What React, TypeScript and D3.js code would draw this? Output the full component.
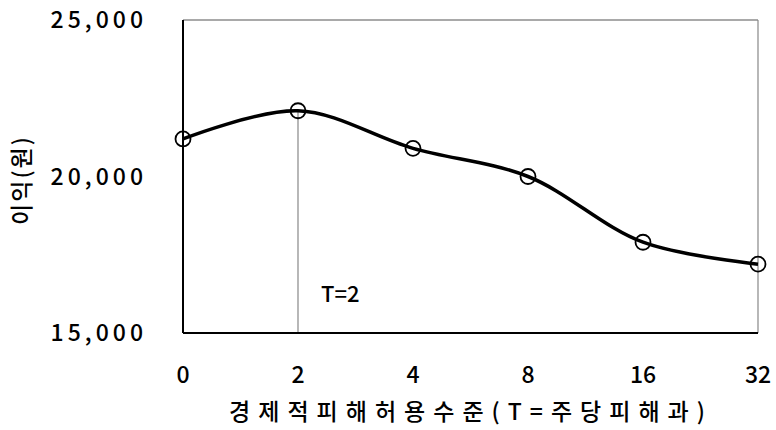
import React, { useRef, useEffect } from 'react';
import * as d3 from 'd3';

const categories: string[] = ['0', '2', '4', '8', '16', '32'];
const profits: number[] = [21200, 22100, 20900, 20000, 17900, 17200];
const yTicks: number[] = [15000, 20000, 25000];
const yTitle = '이익(원)';
const xTitle = '경제적피해허용수준(T=주당피해과)';
const markerLabel = 'T=2';
const markerCategory = '2';

const W = 776;
const H = 430;
const FONT = '"Noto Sans CJK KR", "Noto Sans", sans-serif';

const App: React.FC = () => {
  const ref = useRef<SVGSVGElement>(null);

  useEffect(() => {
    const svg = d3.select(ref.current);
    svg.selectAll('*').remove();

    const left = 183;
    const right = 758;
    const top = 20;
    const bottom = 333;

    const x = d3.scalePoint<string>().domain(categories).range([left, right]);
    const y = d3.scaleLinear().domain([15000, 25000]).range([bottom, top]);

    // frame: gray top/right, black left/bottom
    svg.append('line')
      .attr('x1', left).attr('x2', right).attr('y1', top).attr('y2', top)
      .attr('stroke', '#555').attr('stroke-width', 1.2);
    svg.append('line')
      .attr('x1', right).attr('x2', right).attr('y1', top).attr('y2', bottom)
      .attr('stroke', '#888').attr('stroke-width', 1.2);

    // marker line at T=2
    const mi = categories.indexOf(markerCategory);
    svg.append('line')
      .attr('x1', x(markerCategory)!).attr('x2', x(markerCategory)!)
      .attr('y1', y(profits[mi])).attr('y2', bottom)
      .attr('stroke', '#888').attr('stroke-width', 1.2);
    svg.append('text')
      .attr('x', x(markerCategory)! + 23).attr('y', 302)
      .attr('font-family', FONT).attr('font-size', 22).attr('font-weight', 500)
      .text(markerLabel);

    svg.append('line')
      .attr('x1', left).attr('x2', left).attr('y1', top).attr('y2', bottom)
      .attr('stroke', '#000').attr('stroke-width', 2);
    svg.append('line')
      .attr('x1', left).attr('x2', right).attr('y1', bottom).attr('y2', bottom)
      .attr('stroke', '#000').attr('stroke-width', 2);

    // y tick labels
    svg.append('g')
      .selectAll('text')
      .data(yTicks)
      .enter()
      .append('text')
      .attr('x', 147)
      .attr('y', (d) => y(d) + 8)
      .attr('text-anchor', 'end')
      .attr('font-family', FONT)
      .attr('font-size', 23)
      .attr('font-weight', 500)
      .attr('letter-spacing', 4)
      .text((d) => d3.format(',')(d));

    // x tick labels
    svg.append('g')
      .selectAll('text')
      .data(categories)
      .enter()
      .append('text')
      .attr('x', (d) => x(d)!)
      .attr('y', 383)
      .attr('text-anchor', 'middle')
      .attr('font-family', FONT)
      .attr('font-size', 23)
      .attr('font-weight', 500)
      .text((d) => d);

    // axis titles
    svg.append('text')
      .attr('x', 471).attr('y', 420)
      .attr('text-anchor', 'middle')
      .attr('font-family', FONT).attr('font-size', 23).attr('font-weight', 500)
      .attr('letter-spacing', 8)
      .text(xTitle);
    svg.append('text')
      .attr('transform', `translate(30, 180) rotate(-90)`)
      .attr('text-anchor', 'middle')
      .attr('font-family', FONT).attr('font-size', 23).attr('font-weight', 500)
      .attr('letter-spacing', 2)
      .text(yTitle);

    // smooth line
    const line = d3.line<number>()
      .x((_, i) => x(categories[i])!)
      .y((d) => y(d))
      .curve(d3.curveCatmullRom.alpha(0.5));
    svg.append('path')
      .datum(profits)
      .attr('d', line)
      .attr('fill', 'none')
      .attr('stroke', '#000')
      .attr('stroke-width', 3.5);

    svg.append('g')
      .selectAll('circle')
      .data(profits)
      .enter()
      .append('circle')
      .attr('cx', (_, i) => x(categories[i])!)
      .attr('cy', (d) => y(d))
      .attr('r', 7.5)
      .attr('fill', 'none')
      .attr('stroke', '#000')
      .attr('stroke-width', 1.8);
  }, []);

  return (
    <svg
      ref={ref}
      width={W}
      height={H}
      style={{ position: 'absolute', left: 0, top: 0, background: '#fff' }}
    />
  );
};

export default App;
